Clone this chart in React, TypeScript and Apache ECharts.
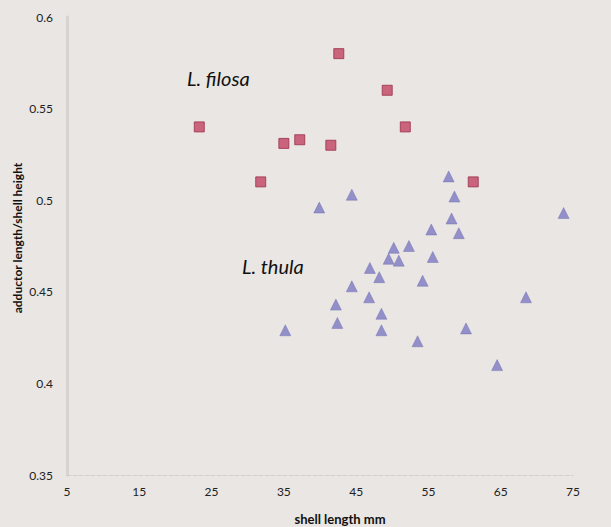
import React, { useEffect, useRef } from "react";
import * as echarts from "echarts";

const xTicks = [5, 15, 25, 35, 45, 55, 65, 75];
const yTicks = [0.35, 0.4, 0.45, 0.5, 0.55, 0.6];

const filosaLength = [42.6, 49.3, 23.3, 51.8, 35.0, 37.2, 41.5, 31.8, 61.2];
const filosaRatio = [0.58, 0.56, 0.54, 0.54, 0.531, 0.533, 0.53, 0.51, 0.51];

const thulaLength = [
  57.8, 44.4, 58.6, 39.9, 73.7, 58.2, 55.4, 59.2, 50.2, 52.3, 49.5, 50.9, 55.6, 46.9,
  48.2, 54.2, 44.4, 46.8, 42.2, 68.5, 48.5, 42.4, 35.2, 48.5, 60.2, 53.5, 64.5,
];
const thulaRatio = [
  0.513, 0.503, 0.502, 0.496, 0.493, 0.49, 0.484, 0.482, 0.474, 0.475, 0.468, 0.467,
  0.469, 0.463, 0.458, 0.456, 0.453, 0.447, 0.443, 0.447, 0.438, 0.433, 0.429, 0.429,
  0.43, 0.423, 0.41,
];

export default function App() {
  const ref = useRef<HTMLDivElement>(null);
  useEffect(() => {
    if (!ref.current) return;
    const chart = echarts.init(ref.current, undefined, { renderer: "svg" });
    const font = "Lato, 'Open Sans', sans-serif";
    chart.setOption({
      animation: false,
      backgroundColor: "#e9e6e3",
      grid: { left: 67, right: 38, top: 17, bottom: 52 },
      xAxis: {
        type: "value",
        min: xTicks[0],
        max: xTicks[xTicks.length - 1],
        interval: 10,
        axisLine: { show: true, lineStyle: { color: "#d2d0cd", width: 1, type: "dashed" } },
        axisTick: { show: false },
        splitLine: { show: false },
        axisLabel: { color: "#222", fontSize: 12, fontFamily: font, margin: 10 },
      },
      yAxis: {
        type: "value",
        min: yTicks[0],
        max: yTicks[yTicks.length - 1],
        interval: 0.05,
        axisLine: { show: true, lineStyle: { color: "#d6d4d1", width: 3 } },
        axisTick: { show: false },
        splitLine: { show: false },
        axisLabel: {
          color: "#222",
          fontSize: 12,
          fontFamily: font,
          margin: 14,
          formatter: (v: number) => String(Math.round(v * 100) / 100),
        },
      },
      graphic: [
        {
          type: "text",
          x: 340,
          y: 519,
          style: {
            text: "shell length mm",
            fill: "#111",
            font: `bold 13px ${font}`,
            textAlign: "center",
            textVerticalAlign: "middle",
          },
        },
        {
          type: "text",
          x: 17,
          y: 238,
          rotation: Math.PI / 2,
          style: {
            text: "adductor length/shell height",
            fill: "#111",
            font: `bold 12px ${font}`,
            textAlign: "center",
            textVerticalAlign: "middle",
          },
        },
        {
          type: "text",
          left: 187,
          top: 68,
          style: { text: "L. filosa", fill: "#111", font: `italic 20px ${font}` },
        },
        {
          type: "text",
          left: 242,
          top: 256,
          style: { text: "L. thula", fill: "#111", font: `italic 20px ${font}` },
        },
      ],
      series: [
        {
          name: "L. filosa",
          type: "scatter",
          symbol: "rect",
          symbolSize: 10,
          itemStyle: { color: "#c24463", borderColor: "#9a3048", borderWidth: 1 },
          data: filosaLength.map((x, i) => [x, filosaRatio[i]]),
        },
        {
          name: "L. thula",
          type: "scatter",
          symbol: "triangle",
          symbolSize: 11,
          itemStyle: { color: "#7d79c2", borderColor: "#6a66b0", borderWidth: 0.5 },
          data: thulaLength.map((x, i) => [x, thulaRatio[i]]),
        },
      ],
    });
    return () => chart.dispose();
  }, []);
  return (
    <div
      ref={ref}
      style={{ position: "fixed", left: 0, top: 0, width: 611, height: 527 }}
    />
  );
}
